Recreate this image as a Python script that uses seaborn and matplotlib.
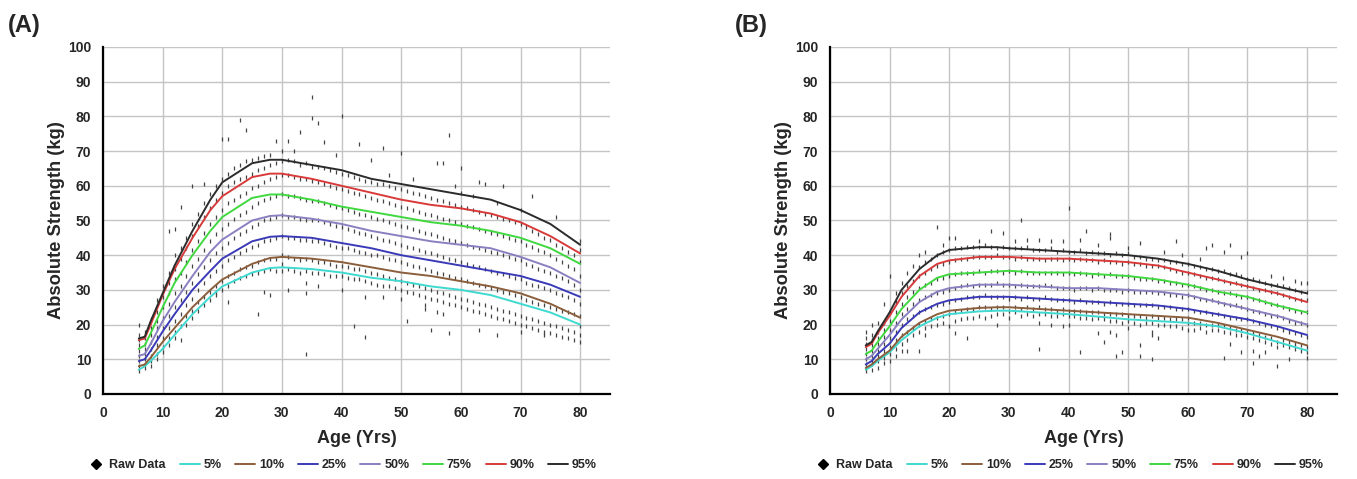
import matplotlib
matplotlib.use("Agg")
import matplotlib.pyplot as plt
import seaborn as sns
import pandas as pd
from matplotlib.lines import Line2D

sns.set_style("white")
plt.rcParams['font.family'] = ['Liberation Sans', 'DejaVu Sans']

# percentile curves
curve_ages = [6, 7, 8, 10, 12, 15, 18, 20, 25, 28, 30, 35, 40, 45, 50, 55, 60, 65, 70, 75, 80]
pct_labels = ["5%", "10%", "25%", "50%", "75%", "90%", "95%"]
pct_colors = ["#3fd9cf", "#8b5e3c", "#3a3ab8", "#8a7fc0", "#3fd83f", "#d83a3a", "#2b2b2b"]

curves_a = {
    "5%":  [7, 8, 9.5, 13, 17, 23, 28, 31, 35, 36.3, 36.5, 36, 35, 33.5, 32.5, 31, 30, 28.5, 26, 23.5, 20],
    "10%": [8, 8.5, 10.5, 15, 19, 25, 30, 33, 37.5, 39.2, 39.5, 39, 38, 36.5, 35, 34, 32.5, 31, 29, 26, 22],
    "25%": [9.5, 10, 12.5, 18, 23, 30, 35.5, 39, 44, 45.3, 45.5, 45, 43.5, 42, 40, 38.5, 37, 35.5, 34, 31.5, 28],
    "50%": [11, 11.5, 14.5, 21, 26.5, 34, 41, 44.5, 50, 51.3, 51.5, 50.5, 49, 47, 45.5, 44, 43, 42, 39.5, 36.5, 32],
    "75%": [13, 14, 17.5, 25, 32, 40, 47, 51, 56.5, 57.5, 57.5, 56, 54, 52.5, 51, 49.5, 48.5, 47, 45, 42, 37.5],
    "90%": [15.5, 16, 20, 28.5, 36, 45, 53, 57, 62.5, 63.5, 63.5, 62, 60, 58, 56, 54.5, 53.5, 52, 49.5, 45.5, 40.5],
    "95%": [16, 16.5, 21, 29, 37, 47, 56, 61, 66.5, 67.5, 67.5, 66, 64.5, 62, 60.5, 59, 57.5, 56, 53, 49, 43],
}
curves_b = {
    "5%":  [7, 8, 9.5, 12, 15.5, 19.5, 22, 23, 23.8, 24, 24, 23.5, 23, 22.3, 21.5, 21, 20.5, 19.5, 17.5, 15, 12.5],
    "10%": [7.5, 8.5, 10, 12.5, 16.5, 20.5, 23, 24, 24.8, 25, 25, 24.5, 24, 23.5, 23, 22.5, 22, 20.5, 18.5, 16.5, 14],
    "25%": [8.5, 9.5, 11.5, 14.5, 19, 23.5, 26, 27, 28, 28, 28, 27.5, 27, 26.5, 26, 25.5, 24.5, 23, 21.5, 19.5, 17],
    "50%": [10, 11, 13, 17, 21.5, 26.5, 29.5, 30.5, 31.5, 31.5, 31.5, 31, 30.5, 30.5, 30, 29.5, 28.5, 26.5, 24.5, 22.5, 20],
    "75%": [11.5, 12.5, 15, 19.5, 24.5, 30, 33.5, 34.5, 35, 35.3, 35.5, 35, 35, 34.5, 34, 33, 31.5, 29.5, 28, 25.5, 23.5],
    "90%": [13.5, 14.5, 17.5, 22.5, 28, 34, 37.5, 38.5, 39.5, 39.5, 39.5, 39, 39, 38.5, 38, 37, 35, 33, 31, 29, 26.5],
    "95%": [14, 15, 18, 23.5, 30, 36, 40, 41.5, 42.3, 42.3, 42, 41.5, 41, 40.5, 40, 39, 37.5, 35.5, 33, 31, 29],
}

# raw data columns (age -> strengths), estimated from the dot cloud
raw_a = {
    6: [6.5, 8, 9.5, 11, 12.5, 14, 15.5, 17, 20], 7: [7.5, 8.5, 10, 11.5, 13, 14.5, 16, 18],
    8: [8, 9.5, 11, 13, 15, 17, 19, 21.5], 9: [10, 11.5, 14, 16.5, 19, 21, 23.5, 27],
    10: [12, 13.5, 16, 19, 22, 25, 28, 31], 11: [14, 16, 19, 22.5, 26, 29, 32, 35, 47],
    12: [16, 18, 21, 25, 29, 33, 36, 40, 47.5], 13: [15.5, 19.5, 23, 27, 31, 35, 39, 42, 54],
    14: [20, 22.5, 25.5, 29.5, 34, 38, 42, 45], 15: [22, 24, 27.5, 32, 37, 41.5, 45.5, 49, 60],
    16: [24, 26.5, 30, 34.5, 39, 44, 48.5, 52], 17: [25.5, 28, 32, 36.5, 41.5, 46.5, 51, 55, 60.5],
    18: [27, 29.5, 34, 38.5, 44, 49, 53.5, 57.5], 19: [28.5, 29.5, 31, 35.5, 40.5, 46, 51, 56, 60],
    20: [30, 32.5, 37, 42, 47.5, 53, 58, 62, 73.5], 21: [26.5, 31, 34, 38.5, 43.5, 49, 55, 60, 63.5, 73.5],
    22: [32.5, 35, 39.5, 45, 50.5, 56, 61, 65], 23: [33.5, 36, 40.5, 46, 51.5, 57, 62, 66, 79],
    24: [34, 36.5, 41.5, 47, 52.5, 58, 62.5, 67, 76], 25: [34.5, 37, 42.5, 48, 54, 59.5, 63.5, 67.5],
    26: [23, 35, 38, 43, 49, 55, 60, 64.5, 68], 27: [29.5, 35.5, 38.5, 44, 50, 56, 61, 65, 68.5],
    28: [28.5, 36, 39, 44.5, 50.5, 56.5, 62, 66, 69], 29: [35.5, 39, 45, 51, 57, 62.5, 66.5, 73],
    30: [35.5, 37.5, 40, 45.5, 51.5, 57.5, 63, 67, 70], 31: [30, 36, 39.5, 45, 51, 57, 63, 67.5, 73],
    32: [35.5, 39, 45, 51, 57, 62.5, 67, 70], 33: [35, 38.5, 44.5, 50.5, 56.5, 62, 66, 75.5],
    34: [11.5, 29, 32, 35.5, 39, 44.5, 50, 56, 62, 66.5], 35: [35, 38.5, 44, 50, 55.5, 61.5, 65.5, 79.5, 85.5],
    36: [31, 35, 38, 44, 50, 55.5, 61, 65.5, 78], 37: [34.5, 38, 43.5, 49.5, 55, 60.5, 65, 72.5],
    38: [34, 37.5, 43, 49, 54.5, 60, 64.5], 39: [34, 37, 42.5, 48.5, 54, 59.5, 64, 69],
    40: [30, 34, 37, 42, 48, 53.5, 59, 63.5, 80], 41: [33.5, 36.5, 42, 47.5, 53, 58.5, 63],
    42: [19.5, 33, 36, 41.5, 47, 52.5, 58, 62.5], 43: [33, 36, 41, 46.5, 52, 57.5, 62, 72],
    44: [16.5, 28, 32.5, 35.5, 40.5, 46, 51.5, 57, 61.5], 45: [32, 35, 40, 45.5, 51, 56.5, 61, 67.5],
    46: [31.5, 34.5, 40, 45, 50.5, 56, 60.5], 47: [28, 31, 34, 39.5, 44.5, 50, 55.5, 60.5, 71],
    48: [31, 33.5, 39, 44, 49.5, 55, 60, 63], 49: [30.5, 33, 38.5, 43.5, 49, 54.5, 59.5],
    50: [27.5, 30, 32.5, 38, 43, 48.5, 54, 59, 69.5], 51: [21, 29.5, 32, 37.5, 42.5, 48, 53.5, 58.5],
    52: [29, 31.5, 37, 42, 47.5, 53, 58, 62], 53: [28.5, 31, 36.5, 41.5, 47, 52.5, 57.5],
    54: [24.5, 25.5, 28, 30.5, 36, 41, 46.5, 52, 57], 55: [18.5, 27.5, 30, 35.5, 40.5, 46, 51.5, 56.5],
    56: [23.5, 27, 29.5, 35, 40, 45.5, 51, 56, 66.5], 57: [23, 26.5, 29, 34.5, 39.5, 45, 50.5, 55.5, 66.5],
    58: [17.5, 26, 28.5, 34, 39, 44.5, 50, 55, 74.5], 59: [25.5, 28, 33.5, 38.5, 44, 49.5, 54.5, 60],
    60: [25, 27.5, 33, 38, 43.5, 49, 54, 58, 65], 61: [24.5, 27, 32.5, 37.5, 43, 48.5, 53.5],
    62: [24, 26.5, 32, 37, 42.5, 48, 53, 57], 63: [18.5, 23.5, 26, 31.5, 36.5, 42, 47.5, 52.5, 61],
    64: [23, 25.5, 31, 36, 41.5, 47, 52, 60.5], 65: [22.5, 25, 30.5, 35.5, 41, 46.5, 51.5],
    66: [17, 22, 24.5, 30, 35, 40.5, 46, 51, 55], 67: [21.5, 24, 29.5, 34.5, 40, 45.5, 50.5, 60],
    68: [21, 23.5, 29, 34, 39.5, 45, 50], 69: [20.5, 23, 28.5, 33.5, 39, 44.5, 49.5],
    70: [18, 20, 22.5, 28, 33, 38.5, 44, 49, 53], 71: [19.5, 22, 27, 32, 37.5, 43, 48],
    72: [19, 21.5, 26.5, 31.5, 37, 42.5, 47, 57], 73: [18.5, 21, 26, 31, 36, 41.5, 46],
    74: [17, 18, 20.5, 25.5, 30.5, 35.5, 41, 45], 75: [17.5, 20, 25, 30, 35, 40, 44.5],
    76: [17, 19.5, 24.5, 29, 34, 39, 43, 51], 77: [16.5, 19, 24, 28.5, 33.5, 38, 42],
    78: [16, 18.5, 23.5, 28, 32.5, 37, 41], 79: [15.5, 18, 23, 27, 31.5, 36, 40],
    80: [15, 17, 19.5, 22.5, 26, 30, 34, 38, 41.5, 44],
}
raw_b = {
    6: [6.5, 7.5, 8.5, 10, 11.5, 13, 14.5, 16, 18], 7: [7, 8.5, 9.5, 11, 12.5, 14, 15.5, 17, 20],
    8: [7.5, 9.5, 11, 12.5, 14.5, 16, 18, 20.5], 9: [9, 10.5, 12.5, 14.5, 16.5, 18.5, 20.5, 26],
    10: [9.5, 11.5, 13.5, 16, 18.5, 21, 23.5, 34], 11: [11, 13, 15.5, 18, 20.5, 23.5, 26.5, 29],
    12: [12.5, 14.5, 17, 20, 23, 26, 29, 32], 13: [12.5, 15.5, 18, 21.5, 24.5, 28, 31, 35],
    14: [17, 19, 22.5, 26, 29.5, 32.5, 37], 15: [12.5, 18, 20, 23.5, 27, 30.5, 34, 36.5, 40],
    16: [17, 19, 21, 24.5, 28, 31.5, 35, 38, 41], 17: [19.5, 21.5, 25, 28.5, 32, 36, 39],
    18: [20, 22, 25.5, 29, 33, 37, 40, 48], 19: [20.5, 22.5, 26, 29.5, 33.5, 37.5, 41, 43],
    20: [19.5, 23, 26.5, 30, 34, 38, 41.5, 45], 21: [17.5, 21, 23.5, 27, 30.5, 34.5, 38.5, 42, 45],
    22: [21.5, 24, 27.5, 31, 35, 39, 42], 23: [16, 22, 24.5, 28, 31.5, 35, 39, 42.5],
    24: [22, 24.5, 28, 31, 35, 39.5, 42.5], 25: [22.5, 25, 28, 31.5, 35.5, 39.5, 42.5, 44],
    26: [22, 25, 28.5, 31.5, 35, 39.5, 43], 27: [22.5, 24.5, 28, 31.5, 35.5, 39.5, 42.5, 47],
    28: [20, 23, 25, 28, 32, 35.5, 40, 42], 29: [23, 25, 28, 31.5, 35, 39.5, 42.5, 46.5],
    30: [22, 24, 27.5, 31.5, 35.5, 39.5, 42], 31: [23.5, 25, 28, 31, 35, 39, 42, 44],
    32: [22.5, 24.5, 27.5, 31.5, 35.5, 39.5, 42, 50], 33: [23, 25, 28, 31, 35, 39, 42.5, 44.5],
    34: [22.5, 24.5, 27.5, 31, 35, 39, 41.5], 35: [13, 20.5, 23, 25, 27.5, 31, 35, 39, 41.5, 44.5],
    36: [23, 24.5, 28, 31.5, 35, 38.5, 41.5], 37: [20, 22.5, 24.5, 27.5, 31, 35, 39, 42, 44],
    38: [22.5, 24, 27, 30.5, 35, 39, 41], 39: [19.5, 23, 24.5, 27, 30.5, 34.5, 38.5, 41.5, 44],
    40: [20, 22.5, 24, 27, 30.5, 35, 39, 41, 53.5], 41: [22.5, 24, 26.5, 30, 34.5, 38.5, 41],
    42: [12, 22, 24, 27, 30.5, 35, 39, 41.5, 44.5], 43: [22, 23.5, 26.5, 30.5, 34.5, 38.5, 40.5, 47],
    44: [21.5, 23.5, 26.5, 30, 34, 38.5, 41], 45: [17.5, 22, 23.5, 26.5, 30.5, 34.5, 38, 40.5, 43],
    46: [15, 21.5, 23, 26, 30, 34, 38.5, 40.5], 47: [18, 21, 23, 26.5, 30, 34.5, 38, 40, 45, 46],
    48: [11, 17, 21, 23, 26, 30, 34, 38, 40.5], 49: [12, 20.5, 23, 26, 29.5, 34, 37.5, 40],
    50: [19, 21, 22.5, 26, 30, 34, 38, 40.5, 42], 51: [20.5, 22.5, 25.5, 29.5, 33.5, 37.5, 39.5],
    52: [11, 14, 20, 22.5, 25.5, 29.5, 33, 37.5, 39.5, 43.5], 53: [20.5, 22, 25.5, 29.5, 33, 37, 39],
    54: [10, 17, 18, 20.5, 22.5, 25.5, 29.5, 33, 37, 39], 55: [16, 20, 22, 25, 29, 32.5, 37, 38.5],
    56: [20, 22, 25, 29, 32.5, 36.5, 38.5, 41], 57: [19.5, 21.5, 25, 28.5, 32, 36, 38],
    58: [19.5, 21.5, 24.5, 28.5, 32, 35.5, 38, 44], 59: [19, 21.5, 24.5, 28, 31.5, 35, 37.5, 40],
    60: [18.5, 20.5, 22, 24.5, 28.5, 31.5, 35, 37.5], 61: [18.5, 20.5, 24, 28, 31, 34.5, 37],
    62: [19, 20.5, 23.5, 27.5, 30.5, 34, 36.5, 39], 63: [18, 20, 23.5, 27, 30, 33.5, 36, 42],
    64: [18.5, 20, 23, 27, 30, 33.5, 36, 43], 65: [18.5, 20, 23, 26.5, 29.5, 33, 35.5],
    66: [10.5, 18, 19.5, 22.5, 26, 29, 32.5, 35.5, 41], 67: [14.5, 17.5, 19, 22, 25.5, 29, 32, 34.5, 43],
    68: [17, 18.5, 22, 25.5, 28.5, 32, 34.5], 69: [12, 17, 18.5, 21.5, 25, 28, 31.5, 34, 39.5],
    70: [16.5, 18, 21.5, 24.5, 28, 31, 33, 40.5], 71: [9, 12.5, 16, 17.5, 21, 24, 27.5, 30.5, 33],
    72: [11, 15.5, 17, 20.5, 23.5, 27, 30, 32.5], 73: [12, 15, 16.5, 20, 23, 26.5, 30, 32],
    74: [14.5, 16, 19.5, 22.5, 26, 29.5, 31.5, 34], 75: [8, 13.5, 15, 19, 22.5, 25.5, 29, 31.5],
    76: [14, 15.5, 18.5, 22, 25, 28.5, 31, 33.5], 77: [10, 13.5, 15, 18, 21, 24.5, 28, 30.5],
    78: [13, 14.5, 17.5, 20.5, 24, 27.5, 30, 32.5], 79: [12.5, 14, 17, 20.5, 23.5, 27, 29.5, 32],
    80: [10.5, 12, 13.5, 16.5, 20, 23.5, 27, 29.5, 32],
}


def to_long_raw(raw):
    rows = [(age, v) for age, vals in raw.items() for v in vals]
    return pd.DataFrame(rows, columns=["Age", "Strength"])


def to_long_curves(curves):
    rows = []
    for lab in pct_labels:
        for age, v in zip(curve_ages, curves[lab]):
            rows.append((age, v, lab))
    return pd.DataFrame(rows, columns=["Age", "Strength", "Percentile"])


fig = plt.figure(figsize=(13.57, 4.79), dpi=100)
ax_a = fig.add_axes([0.0759, 0.1775, 0.3736, 0.7244])
ax_b = fig.add_axes([0.6116, 0.1775, 0.3736, 0.7244])
palette = dict(zip(pct_labels, pct_colors))

for ax, raw, curves, tag in [(ax_a, raw_a, curves_a, "(A)"), (ax_b, raw_b, curves_b, "(B)")]:
    # raw points as tiny vertical dashes
    sns.scatterplot(data=to_long_raw(raw), x="Age", y="Strength", ax=ax,
                    color="#444444", s=6, marker="|", linewidth=0.9,
                    legend=False, zorder=2)
    sns.lineplot(data=to_long_curves(curves), x="Age", y="Strength", hue="Percentile",
                 palette=palette, hue_order=pct_labels, ax=ax, linewidth=1.4,
                 legend=False, zorder=3)

    ax.set_xlim(0, 85)
    ax.set_ylim(0, 100)
    ax.set_xticks(range(0, 81, 10))
    ax.set_yticks(range(0, 101, 10))
    ax.grid(True, color="#c4c4c4", linewidth=1.0, zorder=0)
    ax.set_axisbelow(True)
    for s in ["top", "right"]:
        ax.spines[s].set_visible(False)
    for s in ["left", "bottom"]:
        ax.spines[s].set_color("black")
        ax.spines[s].set_linewidth(1.6)
    ax.tick_params(axis="both", direction="inout", length=5, width=1.2, labelsize=10)
    ax.tick_params(axis="x", pad=6)
    ax.tick_params(axis="y", pad=6)
    for lbl in ax.get_xticklabels() + ax.get_yticklabels():
        lbl.set_fontweight("bold")
    ax.set_xlabel("Age (Yrs)", fontsize=13, fontweight="bold", labelpad=7)
    ax.set_ylabel("Absolute Strength (kg)", fontsize=13.2, fontweight="bold", labelpad=2)
    ax.text(-0.187, 1.063, tag, transform=ax.transAxes, fontsize=17, fontweight="bold",
            va="center", ha="left")

    handles = [Line2D([], [], marker="D", color="black", linestyle="none", markersize=5)]
    handles += [Line2D([], [], color=c, linewidth=1.4) for c in pct_colors]
    ax.legend(handles, ["Raw Data"] + pct_labels, loc="center",
              bbox_to_anchor=(0.47, -0.205), ncol=8, frameon=False,
              handlelength=1.6, handletextpad=0.3, columnspacing=1.1,
              prop={"weight": "bold", "size": 9})

fig.savefig("out.png", dpi=100, facecolor="white")
